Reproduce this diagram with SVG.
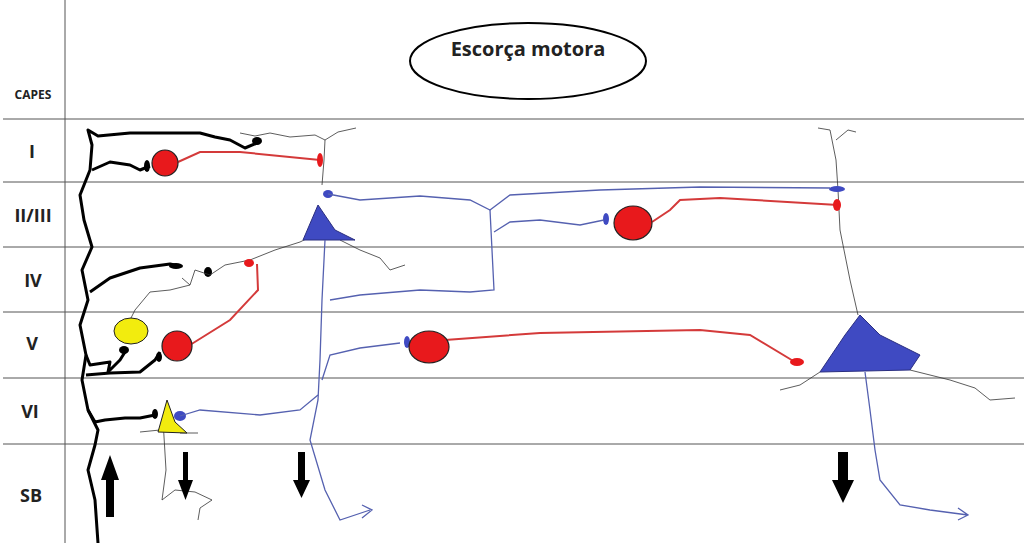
<svg xmlns="http://www.w3.org/2000/svg" width="1024" height="543" viewBox="0 0 1024 543">
<style>
.grid{stroke:#555;stroke-width:1;fill:none}
.lbl{font-family:"Open Sans","Liberation Sans",sans-serif;font-weight:bold;font-size:18px;fill:#222;text-anchor:middle}
.thick{stroke:#000;stroke-width:3;fill:none;stroke-linejoin:round}
.thin{stroke:#333;stroke-width:0.8;fill:none}
.blue{stroke:#5561b0;stroke-width:1.3;fill:none}
.red{stroke:#d43a3a;stroke-width:2;fill:none}
.rcell{fill:#e8191c;stroke:#222;stroke-width:1.2}
</style>
<rect width="1024" height="543" fill="#fff"/>
<g id="grid">
<line class="grid" x1="65" y1="0" x2="65" y2="543"/>
<line class="grid" x1="3" y1="119" x2="1024" y2="119"/>
<line class="grid" x1="3" y1="182" x2="1024" y2="182"/>
<line class="grid" x1="3" y1="247" x2="1024" y2="247"/>
<line class="grid" x1="3" y1="312" x2="1024" y2="312"/>
<line class="grid" x1="3" y1="378" x2="1024" y2="378"/>
<line class="grid" x1="3" y1="444" x2="1024" y2="444"/>
</g>
<g id="labels">
<text class="lbl" x="33" y="99" style="font-size:12px">CAPES</text>
<text class="lbl" x="32" y="158">I</text>
<text class="lbl" x="33" y="222">II/III</text>
<text class="lbl" x="33" y="287">IV</text>
<text class="lbl" x="32" y="350">V</text>
<text class="lbl" x="30" y="418">VI</text>
<text class="lbl" x="31" y="502">SB</text>
</g>
<g id="title">
<ellipse cx="528" cy="61" rx="118" ry="38" fill="#fff" stroke="#000" stroke-width="2"/>
<text class="lbl" x="528" y="56" style="font-size:20px">Escorça motora</text>
</g>
<g id="thalamic">
<path class="thick" d="M98 543 L95 500 L88 470 L95 445 L98 430 L88 410 L82 380 L86 355 L80 325 L88 300 L82 270 L92 247 L84 220 L80 195 L90 170 L92 145 L88 130 L98 136 L130 133 L200 133 L215 137 L230 140 L245 148 L257 143"/>
<path class="thick" d="M92 170 L110 162 L130 165 L140 170 L150 166"/>
<path class="thick" d="M90 292 L110 278 L140 268 L170 264 L180 266"/>
<path class="thick" d="M86 355 L90 365 L110 362 L108 372 L120 360 L125 352"/>
<path class="thick" d="M86 375 L110 373 L140 372 L155 360 L160 352"/>
<path class="thick" d="M88 410 L95 422 L105 420 L125 418 L140 418 L155 415"/>
<ellipse cx="257" cy="141" rx="5" ry="4"/>
<ellipse cx="147" cy="166" rx="3" ry="6"/>
<ellipse cx="176" cy="266" rx="7" ry="3"/>
<ellipse cx="208" cy="272" rx="4" ry="5"/>
<ellipse cx="124" cy="350" rx="5" ry="4"/>
<ellipse cx="159" cy="357" rx="3" ry="5"/>
<ellipse cx="155" cy="414" rx="3" ry="5"/>
</g>
<g id="thin-fibres">
<path class="thin" d="M240 133 L255 136 L270 133 L290 137 L315 135 L325 140 L338 132 L356 128"/>
<path class="thin" d="M325 140 L324 160 L322 185"/>
<path class="thin" d="M320 232 L300 242 L275 250 L250 260 L225 265 L210 275 L195 270 L190 285 L182 278"/>
<path class="thin" d="M190 285 L170 290 L150 292 L135 310 L130 320"/>
<path class="thin" d="M340 240 L360 250 L380 258 L390 270 L405 265"/>
<path class="thin" d="M163 420 L166 470 L162 500 L175 490 L195 492 L212 500 L200 508 L198 520"/>
<path class="thin" d="M140 432 L160 430 M180 433 L198 433"/>
<path class="thin" d="M818 128 L830 130 L836 160 L838 190 L840 230 L850 280 L858 315"/>
<path class="thin" d="M836 140 L848 130 L856 132"/>
<path class="thin" d="M820 372 L800 385 L780 390 M910 370 L950 380 L975 388 L990 400 L1015 398"/>
</g>
<g id="blue-neurons">
<path d="M303 240 L318 205 L335 230 L355 240 Z" fill="#3f4ac2" stroke="#2a2e80"/>
<path d="M820 372 L845 335 L860 315 L880 335 L920 355 L910 370 Z" fill="#3f4ac2" stroke="#2a2e80"/>
<ellipse cx="328" cy="194" rx="5" ry="4" fill="#3f4ac2"/>
<ellipse cx="180" cy="416" rx="6" ry="5" fill="#3f4ac2"/>
<ellipse cx="606" cy="219" rx="3" ry="6" fill="#3f4ac2"/>
<ellipse cx="407" cy="342" rx="3" ry="6" fill="#3f4ac2"/>
<ellipse cx="837" cy="189" rx="8" ry="3" fill="#3f4ac2"/>
<path class="blue" d="M328 194 L360 200 L420 196 L470 200 L490 210 L510 195 L600 190 L700 187 L830 188"/>
<path class="blue" d="M490 210 L492 250 L494 290 L470 292 L420 290 L360 295 L330 300"/>
<path class="blue" d="M494 232 L510 222 L540 220 L580 225 L604 220"/>
<path class="blue" d="M325 240 L322 300 L320 360 L318 400 L310 440 L325 490 L340 520 L370 510 M362 505 L372 510 L362 518"/>
<path class="blue" d="M180 416 L200 410 L260 415 L300 410 L318 395"/>
<path class="blue" d="M322 380 L330 355 L360 348 L400 343"/>
<path class="blue" d="M865 372 L870 410 L875 450 L880 480 L900 505 L930 510 L968 515 M958 508 L968 515 L958 520"/>
</g>
<g id="yellow-cells">
<ellipse cx="131" cy="331" rx="17" ry="13" fill="#f2ec0e" stroke="#222"/>
<path d="M158 432 L167 400 L175 422 L187 433 Z" fill="#f2ec0e" stroke="#222"/>
</g>
<g id="red-cells">
<path class="red" d="M178 162 L200 152 L240 152 L320 160"/>
<ellipse cx="320" cy="160" rx="3" ry="7" fill="#e8191c"/>
<circle class="rcell" cx="165" cy="163" r="13"/>
<path class="red" d="M190 345 L230 320 L258 290 L257 264"/>
<ellipse cx="249" cy="263" rx="5" ry="4" fill="#e8191c"/>
<circle class="rcell" cx="177" cy="346" r="15"/>
<path class="red" d="M652 222 L670 210 L680 200 L720 198 L838 205"/>
<ellipse cx="837" cy="205" rx="4" ry="6" fill="#e8191c"/>
<ellipse class="rcell" cx="633" cy="223" rx="19" ry="17"/>
<path class="red" d="M445 340 L540 333 L700 330 L750 335 L795 362"/>
<ellipse cx="797" cy="362" rx="7" ry="4" fill="#e8191c"/>
<ellipse class="rcell" cx="429" cy="347" rx="20" ry="16"/>
</g>
<g id="arrows">
<path d="M106 517 L114 517 L114 480 L119 480 L110 455 L101 480 L106 480 Z"/>
<path d="M183 452 L188 452 L188 480 L193 480 L185.5 500 L178 480 L183 480 Z"/>
<path d="M298 452 L305 452 L305 480 L310 480 L301.5 498 L293 480 L298 480 Z"/>
<path d="M838 452 L848 452 L848 480 L854 480 L843 503 L832 480 L838 480 Z"/>
</g>
</svg>
